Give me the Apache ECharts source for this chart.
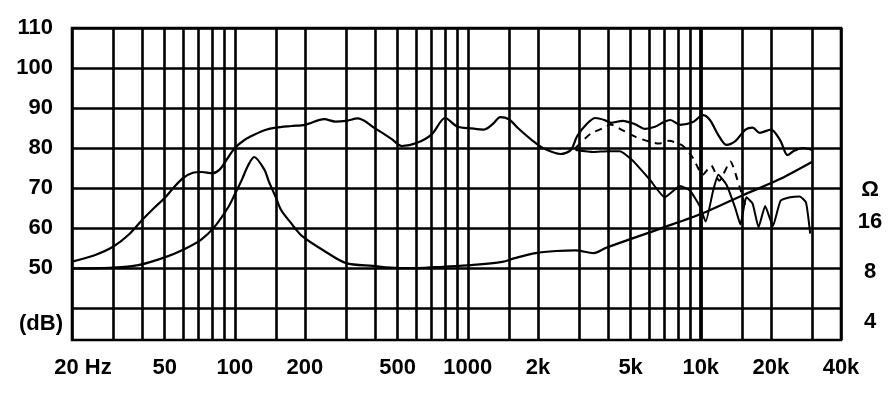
<!DOCTYPE html>
<html><head><meta charset="utf-8">
<script src="https://cdn.jsdelivr.net/npm/echarts@6/dist/echarts.min.js"></script>
<style>html,body{margin:0;padding:0;background:#fff}#c{width:888px;height:395px}</style>
</head><body><div id="c"></div>
<script>
// grid / tick values
const freqGrid = [20,30,40,50,60,70,80,90,100,150,200,300,400,500,600,700,800,900,1000,1500,2000,3000,4000,5000,6000,7000,8000,9000,10000,15000,20000,30000,40000];
const freqLabels = [20,50,100,200,500,1000,2000,5000,10000,20000,40000];
const dbGrid = [40,50,60,70,80,90,100,110];
const dbLabels = [36,50,60,70,80,90,100,110];
const ohmLabels = [4,8,16,25];

// on-axis SPL (dB)
const spl0 = [[20,51.6],[25,53.2],[30,55.3],[35,58.3],[40,62],[45,65],[50,67.5],[55,70.3],[60,72.5],[66,73.8],[72,74],[80,73.7],[86,74.6],[92,77],[100,80],[110,82],[121,83.3],[135,84.5],[150,85.1],[175,85.5],[200,85.8],[242,87.2],[270,86.6],[300,86.8],[338,87.4],[400,84.9],[470,82.3],[520,80.5],[606,81.3],[700,83.4],[800,87.5],[900,85.4],[1037,84.9],[1170,84.6],[1280,86],[1380,87.7],[1500,87.2],[1640,85],[1900,81.8],[2100,80],[2500,78.5],[2770,79.5],[2950,83],[3240,86],[3530,87.5],[3860,87],[4120,86.3],[4630,86.8],[5200,86],[5770,84.8],[6360,85.3],[6950,86.5],[7400,87],[8160,85.8],[9260,86.5],[10200,88.2],[10950,87],[11880,83.3],[12880,80.8],[14120,81.8],[15550,84.6],[16690,85.1],[17910,83.8],[20000,84.6],[21990,81.8],[23570,78.2],[24970,79.2],[27510,80],[30000,79.5]];
// off-axis SPL, dashed (dB)
const splDashed = [[2900,80],[3370,83.6],[3860,85.1],[4100,85.9],[4630,84.4],[5250,82.8],[6000,81.6],[6610,81.1],[7320,81.8],[8400,80.5],[9260,77.5],[10200,73.3],[11100,75.6],[12000,71.8],[13400,76.6],[14500,71.3],[15550,65.5]];
// off-axis SPL, solid lower (dB)
const splLow = [[2900,79.5],[3460,79],[4000,79.2],[4490,79.2],[5100,76.9],[5600,74.3],[6060,72],[7000,67.7],[8160,70.5],[9000,69.3],[9900,65.5],[10500,61.6],[11300,69.3],[11900,73.3],[12900,70.8],[14100,64.8],[14800,60.9],[15700,67.7],[16700,66.1],[17700,60.2],[18900,65.5],[20400,60.5],[22000,66.8],[24200,67.7],[26600,67.9],[28300,66.4],[29500,58.6]];
// impedance (ohm)
const impedance = [[20,8.4],[30,8.5],[38.5,8.8],[50,9.8],[60,10.9],[71.5,12.5],[81.6,14.9],[93.8,19.7],[100,23.5],[107,28.6],[114,35],[121,39.4],[134,33],[140,28],[150,22.5],[158,18.9],[174,15.8],[194,13.2],[245,10.6],[300,9.05],[391,8.7],[503,8.45],[606,8.45],[785,8.6],[1037,8.8],[1406,9.2],[1593,9.7],[1956,10.4],[2400,10.7],[2900,10.8],[3464,10.4],[3930,11.2],[6800,14.7],[10520,18.4],[15270,23.3],[21400,28.6],[30000,36.8]];

const FONT = 'Liberation Sans';
const FS = 22;
const chart = echarts.init(document.getElementById('c'), null, {renderer: 'canvas'});

const gridLines = freqGrid.map(f => ({xAxis: f, lineStyle: {width: f === 10000 ? 3.8 : 2.6}}))
  .concat(dbGrid.map(d => ({yAxis: d})));

function fmtFreq(v) {
  const f = Math.round(v);
  if (f === 20) return '{hz|20 Hz}';
  if (f >= 2000) return (f / 1000) + 'k';
  return String(f);
}

chart.setOption({
  animation: false,
  backgroundColor: '#fff',
  grid: {left: 72, right: 47, top: 28, bottom: 55, show: true, borderColor: '#000', borderWidth: 2.6, backgroundColor: 'transparent'},
  xAxis: {
    type: 'log', logBase: 10, min: 20, max: 40000,
    axisLine: {show: false}, axisTick: {show: false}, splitLine: {show: false}, minorSplitLine: {show: false},
    axisLabel: {
      customValues: freqLabels, formatter: fmtFreq, margin: 17,
      color: '#000', fontFamily: FONT, fontSize: FS, fontWeight: 'bold',
      rich: {hz: {fontFamily: FONT, fontSize: FS, fontWeight: 'bold', color: '#000', padding: [0, 0, 0, 22]}}
    }
  },
  yAxis: [{
    type: 'value', min: 32, max: 110, position: 'left',
    axisLine: {show: false}, axisTick: {show: false}, splitLine: {show: false},
    axisLabel: {
      customValues: dbLabels, margin: 9,
      formatter: v => Math.round(v) === 36 ? '{u|(dB)}' : '{n|' + Math.round(v) + '}',
      color: '#000', fontFamily: FONT, fontSize: FS, fontWeight: 'bold',
      rich: {
        n: {fontFamily: FONT, fontSize: FS, fontWeight: 'bold', color: '#000', padding: [0, 10, 0, 0]},
        u: {fontFamily: FONT, fontSize: FS, fontWeight: 'bold', color: '#000'}
      }
    }
  }, {
    type: 'log', logBase: 2, min: 3.116, max: 235.6, position: 'right',
    axisLine: {show: false}, axisTick: {show: false}, splitLine: {show: false}, minorSplitLine: {show: false},
    axisLabel: {
      customValues: ohmLabels, margin: 29, align: 'center',
      formatter: v => Math.round(v) === 25 ? 'Ω' : String(Math.round(v)),
      color: '#000', fontFamily: FONT, fontSize: FS, fontWeight: 'bold'
    }
  }],
  series: [{
    type: 'line', name: 'grid', data: [], z: 1, silent: true,
    markLine: {
      silent: true, symbol: 'none', animation: false,
      label: {show: false},
      lineStyle: {color: '#000', width: 2.6, type: 'solid'},
      data: gridLines
    }
  }, {
    type: 'line', name: 'SPL', data: spl0, yAxisIndex: 0, z: 3,
    showSymbol: false, smooth: 0.3, lineStyle: {color: '#000', width: 2.2}
  }, {
    type: 'line', name: 'SPL dashed', data: splDashed, yAxisIndex: 0, z: 3,
    showSymbol: false, smooth: 0.2, lineStyle: {color: '#000', width: 2, type: [7, 6]}
  }, {
    type: 'line', name: 'SPL low', data: splLow, yAxisIndex: 0, z: 3,
    showSymbol: false, smooth: 0.15, lineStyle: {color: '#000', width: 2}
  }, {
    type: 'line', name: 'Impedance', data: impedance, yAxisIndex: 1, z: 3,
    showSymbol: false, smooth: 0.3, lineStyle: {color: '#000', width: 2.2}
  }]
});
</script></body></html>
